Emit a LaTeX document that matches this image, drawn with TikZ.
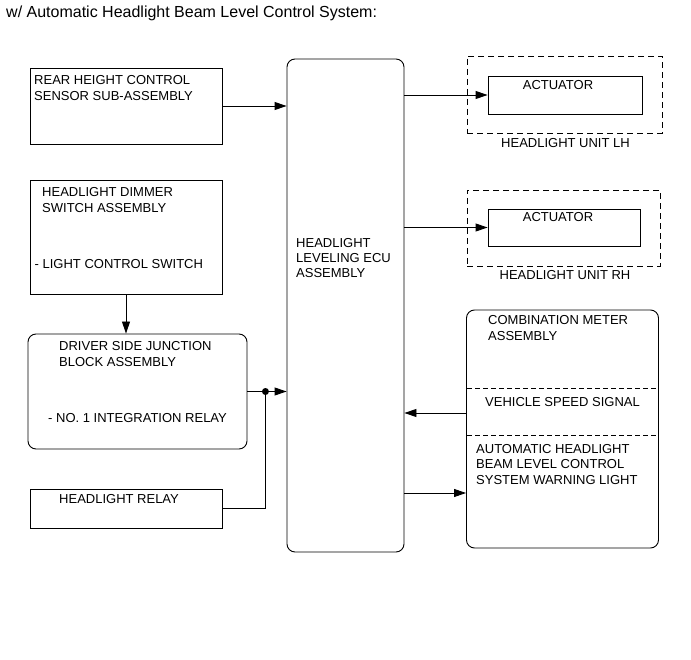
\documentclass[tikz,border=0pt]{standalone}
\usepackage{fontspec}
\setmainfont{Liberation Sans}
\usetikzlibrary{arrows.meta,positioning,calc}

\begin{document}
\begin{tikzpicture}[x=1pt,y=-1pt,
  box/.style={draw,line width=0.9pt,inner sep=0pt},
  rbox/.style={box,rounded corners=8pt},
  unitbox/.style={box,dash pattern=on 6pt off 4pt},
  txt/.style={inner sep=0pt,align=left,font=\fontsize{13}{16}\selectfont},
  conn/.style={line width=0.9pt},
  tapdot/.style={circle,fill,inner sep=0pt,minimum size=7pt},
  >={Triangle[length=12pt,width=8pt]}
]
\useasboundingbox (0,0) rectangle (691,660);
\node[anchor=west,inner sep=0pt,font=\fontsize{16}{19}\selectfont] (title) at (6,13.5)
  {w/ Automatic Headlight Beam Level Control System:};

% left side inputs
\node[box,minimum width=192pt,minimum height=76pt] (rear) at (126,106) {};
\node[box,minimum width=192pt,minimum height=114pt] (dimmer) at (126,237) {};
\node[rbox,minimum width=219pt,minimum height=115pt] (jb) at (137.5,391.5) {};
\node[box,minimum width=192pt,minimum height=39pt] (relay) at (126,508.5) {};

\node[txt,anchor=north west] (reartxt) at (34,75) {REAR HEIGHT CONTROL\\SENSOR SUB-ASSEMBLY};
\node[txt,anchor=north west] (dimmertxt) at (42,187) {HEADLIGHT DIMMER\\SWITCH ASSEMBLY};
\node[txt,anchor=west] (lcsw) at (34.5,264) {- LIGHT CONTROL SWITCH};
\node[txt,anchor=north west] (jbtxt) at (59,341) {DRIVER SIDE JUNCTION\\BLOCK ASSEMBLY};
\node[txt,anchor=west] (intrelay) at (48,418) {- NO. 1 INTEGRATION RELAY};
\node[txt,anchor=west] (relaytxt) at (59,499) {HEADLIGHT RELAY};

% ecu
\node[rbox,minimum width=117pt,minimum height=493pt] (ecu) at (345.5,305.5) {};
\node[txt,anchor=north west,font=\fontsize{13}{15}\selectfont] (ecutxt) at (296,238)
  {HEADLIGHT\\LEVELING ECU\\ASSEMBLY};

% headlight units
\node[unitbox,minimum width=195pt,minimum height=77pt] (lhunit) at (564.5,94.5) {};
\node[box,minimum width=154pt,minimum height=38pt] (lhact) at (565,95) {};
\node[txt] (lhacttxt) at (558,85) {ACTUATOR};
\node[txt] (lhtxt) at (565.5,143) {HEADLIGHT UNIT LH};
\node[unitbox,minimum width=193pt,minimum height=76pt] (rhunit) at (563.5,228) {};
\node[box,minimum width=152pt,minimum height=37pt] (rhact) at (564,227.5) {};
\node[txt] (rhacttxt) at (558,217) {ACTUATOR};
\node[txt] (rhtxt) at (565,275) {HEADLIGHT UNIT RH};

% combination meter
\node[rbox,minimum width=192pt,minimum height=238pt] (meter) at (562.5,429) {};
\coordinate (sep1) at (467,388);
\coordinate (sep2) at (467,435);
\draw[conn,dash pattern=on 5pt off 3pt] (sep1) -- (sep1 -| meter.east);
\draw[conn,dash pattern=on 5pt off 3pt] (sep2) -- (sep2 -| meter.east);
\node[txt,anchor=north west] (metertxt) at (488,315) {COMBINATION METER\\ASSEMBLY};
\node[txt,anchor=west] (spdtxt) at (485,402) {VEHICLE SPEED SIGNAL};
\node[txt,anchor=north west,font=\fontsize{13}{15.7}\selectfont] (warntxt) at (476,444)
  {AUTOMATIC HEADLIGHT\\BEAM LEVEL CONTROL\\SYSTEM WARNING LIGHT};

% connectors
\draw[conn,->] (rear.east) -- (rear.east -| ecu.west);
\draw[conn,->] (dimmer.south) -- (dimmer.south |- jb.north);
\draw[conn,->] (jb.east) -- (jb.east -| ecu.west);
\node[tapdot] (tap) at ($(jb.east)+(18,0)$) {};
\draw[conn] (relay.east) -| (tap);
\draw[conn,->] (ecu.east |- lhact.west) -- (lhact.west);
\draw[conn,->] (ecu.east |- rhact.west) -- (rhact.west);
\coordinate (spd) at (467,413);
\draw[conn,->] (spd) -- (spd -| ecu.east);
\coordinate (warn) at (404,493);
\draw[conn,->] (warn) -- (warn -| meter.west);
\end{tikzpicture}
\end{document}
